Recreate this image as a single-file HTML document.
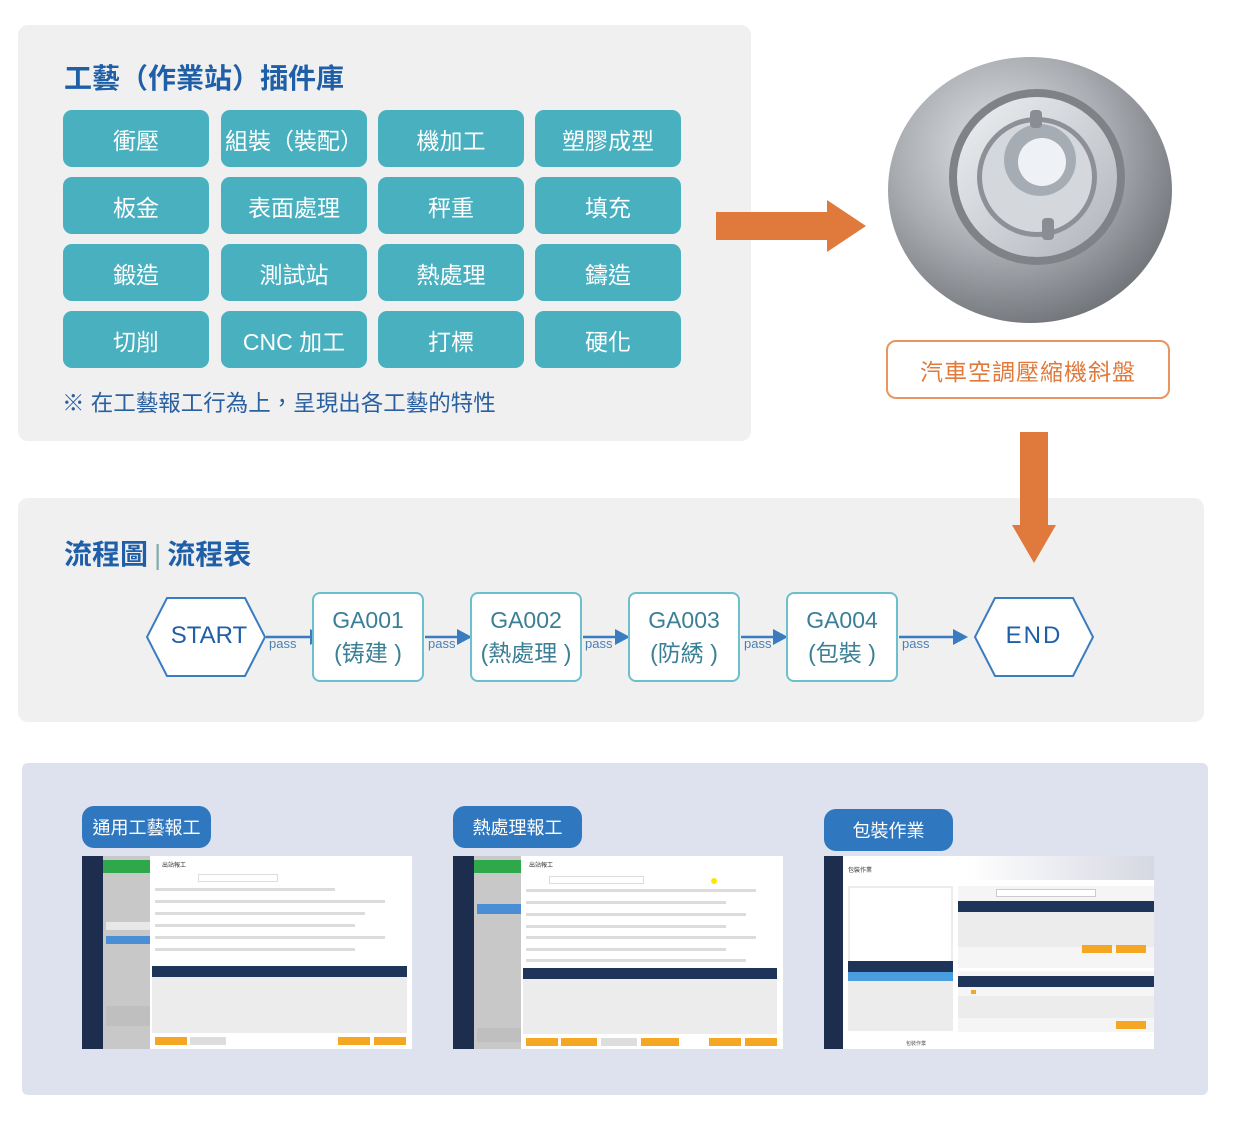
<!DOCTYPE html>
<html><head><meta charset="utf-8"><style>
*{margin:0;padding:0;box-sizing:border-box}
body{width:1251px;height:1127px;background:#fff;position:relative;font-family:"Liberation Sans","Noto Sans CJK TC",sans-serif;overflow:hidden}
.a{position:absolute}
.panel{background:#f0f0f0;border-radius:10px}
.ttl{color:#1f5fa8;font-weight:bold;font-size:28px}
.btn{position:absolute;width:146px;height:57px;background:#48b0bf;border-radius:9px;color:#fff;font-size:23px;display:flex;align-items:center;justify-content:center}
.box{position:absolute;top:592px;width:112px;height:90px;border:2px solid #6cbfcc;border-radius:8px;background:#fff;color:#3a7f95;font-size:23px;text-align:center;line-height:33px;padding-top:10px}
.pass{position:absolute;top:636px;font-size:13px;color:#4a7fb5}
.tag{position:absolute;width:129px;height:42px;background:#2f78bf;border-radius:12px;color:#fff;font-size:18px;display:flex;align-items:center;justify-content:center}
.shot{position:absolute;width:330px;height:193px;background:#c8c8c8;overflow:hidden}
.sb{position:absolute;left:0;top:0;width:21px;height:100%;background:#1c2d4e}
.dlg{position:absolute;left:68px;top:0;right:0;bottom:0;background:#fff}
.th{position:absolute;background:#1e3559}
.tb{position:absolute;background:#ececec}
.ob{position:absolute;background:#f5a623;height:8px}
.ln{position:absolute;height:3px;background:#dcdcdc}
</style></head><body>

<div class="a panel" style="left:18px;top:25px;width:733px;height:416px"></div>
<div class="a ttl" style="left:64px;top:57px">工藝（作業站）插件庫</div>

<div class="btn" style="left:63px;top:110px">衝壓</div>
<div class="btn" style="left:221px;top:110px">組裝（裝配）</div>
<div class="btn" style="left:378px;top:110px">機加工</div>
<div class="btn" style="left:535px;top:110px">塑膠成型</div>
<div class="btn" style="left:63px;top:177px">板金</div>
<div class="btn" style="left:221px;top:177px">表面處理</div>
<div class="btn" style="left:378px;top:177px">秤重</div>
<div class="btn" style="left:535px;top:177px">填充</div>
<div class="btn" style="left:63px;top:244px">鍛造</div>
<div class="btn" style="left:221px;top:244px">測試站</div>
<div class="btn" style="left:378px;top:244px">熱處理</div>
<div class="btn" style="left:535px;top:244px">鑄造</div>
<div class="btn" style="left:63px;top:311px">切削</div>
<div class="btn" style="left:221px;top:311px">CNC 加工</div>
<div class="btn" style="left:378px;top:311px">打標</div>
<div class="btn" style="left:535px;top:311px">硬化</div>
<div class="a" style="left:62px;top:386px;font-size:22.5px;color:#2a5fa0">※ 在工藝報工行為上，呈現出各工藝的特性</div>

<svg class="a" style="left:0;top:0" width="1251" height="1127">
<defs>
<radialGradient id="g1" cx="40%" cy="35%" r="70%"><stop offset="0" stop-color="#e2e4e7"/><stop offset="0.55" stop-color="#a8acb1"/><stop offset="1" stop-color="#6e7277"/></radialGradient>
<linearGradient id="g2" x1="0" y1="0" x2="1" y2="1"><stop offset="0" stop-color="#eef0f3"/><stop offset="1" stop-color="#b0b4ba"/></linearGradient>
</defs>
<polygon points="716,212 827,212 827,200 866,226 827,252 827,240 716,240" fill="#e07a3c"/>
<ellipse cx="1030" cy="190" rx="142" ry="133" fill="url(#g1)"/>
<circle cx="1037" cy="177" r="88" fill="#7f8388"/>
<circle cx="1037" cy="177" r="80" fill="url(#g2)"/>
<circle cx="1037" cy="177" r="60" fill="#8d9197"/>
<circle cx="1037" cy="177" r="55" fill="#d4d8dd"/>
<circle cx="1040" cy="160" r="36" fill="#a6acb3"/>
<circle cx="1042" cy="162" r="24" fill="#eef1f5"/>
<rect x="1030" y="110" width="12" height="18" rx="4" fill="#8a8e93"/>
<rect x="1042" y="218" width="12" height="22" rx="4" fill="#8a8e93"/>
</svg>
<div class="a" style="left:886px;top:340px;width:284px;height:59px;border:2px solid #e8955f;border-radius:10px;background:#fff;color:#e07a3c;font-size:23px;display:flex;align-items:center;justify-content:center;letter-spacing:1px">汽車空調壓縮機斜盤</div>

<div class="a panel" style="left:18px;top:498px;width:1186px;height:224px"></div>
<div class="a ttl" style="left:64px;top:533px">流程圖<span style="font-weight:normal;color:#8aa;padding:0 6px">|</span>流程表</div>

<svg class="a" style="left:0;top:0" width="1251" height="1127">
<polygon points="1020,432 1048,432 1048,525 1056,525 1034,563 1012,525 1020,525" fill="#e07a3c"/>
<polygon points="167,598 245,598 265,637 245,676 167,676 147,637" fill="#fff" stroke="#3a7cc0" stroke-width="2"/>
<polygon points="995,598 1073,598 1093,637 1073,676 995,676 975,637" fill="#fff" stroke="#3a7cc0" stroke-width="2"/>
<g stroke="#3a7cc0" stroke-width="2.5" fill="#3a7cc0">
<line x1="266" y1="637" x2="312" y2="637"/><polygon points="325,637 310,629 310,645" stroke="none"/>
<line x1="425" y1="637" x2="459" y2="637"/><polygon points="472,637 457,629 457,645" stroke="none"/>
<line x1="583" y1="637" x2="617" y2="637"/><polygon points="630,637 615,629 615,645" stroke="none"/>
<line x1="741" y1="637" x2="775" y2="637"/><polygon points="788,637 773,629 773,645" stroke="none"/>
<line x1="899" y1="637" x2="955" y2="637"/><polygon points="968,637 953,629 953,645" stroke="none"/>
</g>
</svg>
<div class="a" style="left:147px;top:622px;width:124px;text-align:center;font-size:24px;color:#1f5fa8">START</div>
<div class="a" style="left:975px;top:622px;width:118px;text-align:center;font-size:24px;color:#1f5fa8;letter-spacing:2px">END</div>
<div class="box" style="left:312px">GA001<br>(铸建 )</div>
<div class="box" style="left:470px">GA002<br>(熱處理 )</div>
<div class="box" style="left:628px">GA003<br>(防綉 )</div>
<div class="box" style="left:786px">GA004<br>(包裝 )</div>
<div class="pass" style="left:269px">pass</div>
<div class="pass" style="left:428px">pass</div>
<div class="pass" style="left:585px">pass</div>
<div class="pass" style="left:744px">pass</div>
<div class="pass" style="left:902px">pass</div>

<div class="a" style="left:22px;top:763px;width:1186px;height:332px;background:#dde2ee;border-radius:6px"></div>
<div class="tag" style="left:82px;top:806px">通用工藝報工</div>
<div class="tag" style="left:453px;top:806px">熱處理報工</div>
<div class="tag" style="left:824px;top:809px">包裝作業</div>

<div class="shot" style="left:82px;top:856px">
 <div class="sb"></div>
 <div class="a" style="left:21px;top:4px;width:50px;height:13px;background:#2fa84b"></div>
 <div class="a" style="left:24px;top:66px;width:44px;height:8px;background:#e8e8e8"></div>
 <div class="a" style="left:24px;top:80px;width:44px;height:8px;background:#4a8fd6"></div>
 <div class="a" style="left:24px;top:150px;width:44px;height:20px;background:#bfbfbf"></div>
 <div class="dlg">
  <div class="a" style="left:12px;top:4px;font-size:6px;color:#333">出站報工</div>
  <div class="a" style="left:48px;top:18px;width:80px;height:8px;border:1px solid #ddd"></div>
  <div class="ln" style="left:5px;top:32px;width:180px"></div>
  <div class="ln" style="left:5px;top:44px;width:230px"></div>
  <div class="ln" style="left:5px;top:56px;width:210px"></div>
  <div class="ln" style="left:5px;top:68px;width:200px"></div>
  <div class="ln" style="left:5px;top:80px;width:230px"></div>
  <div class="ln" style="left:5px;top:92px;width:200px"></div>
  <div class="th" style="left:2px;top:110px;width:255px;height:11px"></div>
  <div class="tb" style="left:2px;top:121px;width:255px;height:56px"></div>
  <div class="ob" style="left:5px;top:181px;width:32px"></div>
  <div class="a" style="left:40px;top:181px;width:36px;height:8px;background:#ddd"></div>
  <div class="ob" style="left:188px;top:181px;width:32px"></div>
  <div class="ob" style="left:224px;top:181px;width:32px"></div>
 </div>
</div>

<div class="shot" style="left:453px;top:856px">
 <div class="sb"></div>
 <div class="a" style="left:21px;top:4px;width:50px;height:13px;background:#2fa84b"></div>
 <div class="a" style="left:24px;top:48px;width:44px;height:10px;background:#4a8fd6"></div>
 <div class="a" style="left:24px;top:172px;width:44px;height:14px;background:#bfbfbf"></div>
 <div class="dlg">
  <div class="a" style="left:8px;top:4px;font-size:6px;color:#333">出站報工</div>
  <div class="a" style="left:28px;top:20px;width:95px;height:8px;border:1px solid #ddd"></div>
  <div class="a" style="left:190px;top:22px;width:6px;height:6px;border-radius:3px;background:#ffe600"></div>
  <div class="ln" style="left:5px;top:33px;width:230px"></div>
  <div class="ln" style="left:5px;top:45px;width:200px"></div>
  <div class="ln" style="left:5px;top:57px;width:220px"></div>
  <div class="ln" style="left:5px;top:69px;width:200px"></div>
  <div class="ln" style="left:5px;top:80px;width:230px"></div>
  <div class="ln" style="left:5px;top:92px;width:200px"></div>
  <div class="ln" style="left:5px;top:103px;width:220px"></div>
  <div class="th" style="left:2px;top:112px;width:254px;height:11px"></div>
  <div class="tb" style="left:2px;top:123px;width:254px;height:55px"></div>
  <div class="ob" style="left:5px;top:182px;width:32px"></div>
  <div class="ob" style="left:40px;top:182px;width:36px"></div>
  <div class="a" style="left:80px;top:182px;width:36px;height:8px;background:#ddd"></div>
  <div class="ob" style="left:120px;top:182px;width:38px"></div>
  <div class="ob" style="left:188px;top:182px;width:32px"></div>
  <div class="ob" style="left:224px;top:182px;width:32px"></div>
 </div>
</div>

<div class="shot" style="left:824px;top:856px;background:#fff">
 <div class="sb" style="width:19px"></div>
 <div class="a" style="left:19px;top:0;width:311px;height:24px;background:linear-gradient(90deg,#fff 40%,#d6d8e2)"></div>
 <div class="a" style="left:24px;top:9px;font-size:6px;color:#333">包裝作業</div>
 <div class="a" style="left:24px;top:30px;width:105px;height:145px;background:#ececec"></div>
 <div class="a" style="left:26px;top:32px;width:101px;height:80px;background:#fff"></div>
 <div class="th" style="left:24px;top:105px;width:105px;height:11px"></div>
 <div class="a" style="left:24px;top:116px;width:105px;height:9px;background:#4a9ee0"></div>
 <div class="a" style="left:134px;top:30px;width:196px;height:82px;background:#f5f5f5"></div>
 <div class="a" style="left:172px;top:33px;width:100px;height:8px;border:1px solid #ccc;background:#fff"></div>
 <div class="th" style="left:134px;top:45px;width:196px;height:11px"></div>
 <div class="tb" style="left:134px;top:56px;width:196px;height:35px"></div>
 <div class="ob" style="left:258px;top:89px;width:30px"></div>
 <div class="ob" style="left:292px;top:89px;width:30px"></div>
 <div class="a" style="left:134px;top:115px;width:196px;height:61px;background:#f5f5f5"></div>
 <div class="th" style="left:134px;top:120px;width:196px;height:11px"></div>
 <div class="tb" style="left:134px;top:140px;width:196px;height:22px"></div>
 <div class="a" style="left:147px;top:134px;width:5px;height:4px;background:#f5a623"></div>
 <div class="ob" style="left:292px;top:165px;width:30px"></div>
 <div class="a" style="left:82px;top:184px;font-size:5px;color:#555">包裝作業</div>
</div>

</body></html>
